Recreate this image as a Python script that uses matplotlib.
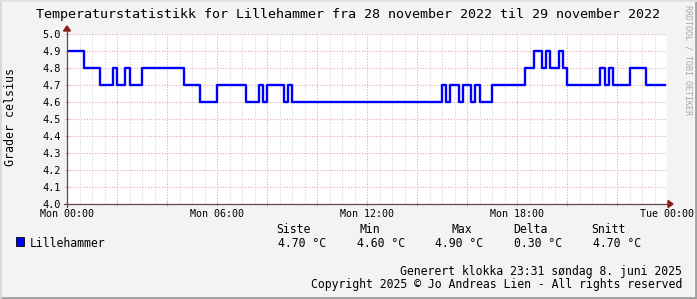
import numpy as np
import matplotlib.pyplot as plt
from matplotlib.patches import Rectangle

# Data: change times (minutes after Mon 00:00) and temperature levels
t_change = [0, 40, 80, 110, 120, 140, 150, 180, 280, 320,
            360, 430, 460, 470, 480, 520, 530, 540, 900, 910,
            920, 940, 950, 970, 980, 990, 1020, 1100, 1120, 1140,
            1150, 1160, 1180, 1190, 1200, 1280, 1290, 1300, 1310, 1350,
            1390]
temp = [4.9, 4.8, 4.7, 4.8, 4.7, 4.8, 4.7, 4.8, 4.7, 4.6,
        4.7, 4.6, 4.7, 4.6, 4.7, 4.6, 4.7, 4.6, 4.7, 4.6,
        4.7, 4.6, 4.7, 4.6, 4.7, 4.6, 4.7, 4.8, 4.9, 4.8,
        4.9, 4.8, 4.9, 4.8, 4.7, 4.8, 4.7, 4.8, 4.7, 4.8,
        4.7]
t_end = 1435

xtick_pos = [0, 360, 720, 1080, 1440]
xtick_labels = ['Mon 00:00', 'Mon 06:00', 'Mon 12:00', 'Mon 18:00', 'Tue 00:00']

stat_names = ['Siste', 'Min', 'Max', 'Delta', 'Snitt']
stat_values = ['4.70 °C', '4.60 °C', '4.90 °C', '0.30 °C', '4.70 °C']

W, H = 697, 299
def fx(x): return x / W
def fy(y): return 1 - y / H

mono = 'DejaVu Sans Mono'
plt.rcParams['font.family'] = mono

fig = plt.figure(figsize=(W / 100, H / 100), dpi=100, facecolor='#f3f3f3')
ax = fig.add_axes([fx(67), fy(204), 600 / W, 170 / H])
ax.set_facecolor('white')

# grid
mgrid = '#e0a8a8'
ngrid = '#d4d4d4'
for m in range(30, 1440, 30):
    if m % 120 == 0:
        continue
    ax.axvline(m, color=ngrid, lw=0.8, ls=(0, (1, 1.5)), zorder=1)
for m in range(120, 1441, 120):
    ax.axvline(m, color=mgrid, lw=0.8, ls=(0, (1, 1.5)), zorder=1)
for v in np.arange(4.1, 5.01, 0.1):
    ax.axhline(v, color=mgrid, lw=0.8, ls=(0, (1, 1.5)), zorder=1)

xs = t_change + [t_end]
ys = temp + [temp[-1]]
ax.step(xs, ys, where='post', color='#0000ff', lw=1.7, zorder=3)

ax.set_xlim(0, 1440)
ax.set_ylim(4.0, 5.0)
for s in ax.spines.values():
    s.set_visible(False)

yt = np.arange(4.0, 5.01, 0.1)
ax.set_yticks(yt)
ax.set_yticklabels(['%.1f' % v for v in yt])
ax.tick_params(axis='y', length=2.5, width=0.8, color=mgrid, pad=3, labelsize=7.4, direction='inout')
ax.set_xticks(range(0, 1441, 120))
ax.set_xticklabels([])
ax.tick_params(axis='x', length=2.5, width=0.8, color=mgrid, direction='inout')
for p, lab in zip(xtick_pos, xtick_labels):
    fig.text(fx(67 + p / 1440 * 600), fy(217), lab, ha='center', va='baseline', fontsize=7.2)

# axes with arrows
axc = '#604848'
arc = '#8b1a1a'
fig.add_artist(plt.Line2D([fx(64), fx(668)], [fy(204), fy(204)], color=axc, lw=0.9))
fig.add_artist(plt.Line2D([fx(67), fx(67)], [fy(207), fy(30)], color=axc, lw=0.9))
fig.add_artist(plt.Polygon([[fx(67), fy(26)], [fx(63.5), fy(31)], [fx(70.5), fy(31)]], color=arc, closed=True))
fig.add_artist(plt.Polygon([[fx(673), fy(204)], [fx(668), fy(200.5)], [fx(668), fy(207.5)]], color=arc, closed=True))

# titles
fig.text(fx(348), fy(18), 'Temperaturstatistikk for Lillehammer fra 28 november 2022 til 29 november 2022',
         ha='center', va='baseline', fontsize=9.6)
fig.text(fx(11), fy(117), 'Grader celsius', rotation=90, ha='center', va='center', fontsize=8.4)
fig.text(fx(688), fy(5), 'RRDTOOL / TOBI OETIKER', rotation=-90, ha='center', va='top',
         fontsize=6, color='#a8a8a8')

# legend
fig.add_artist(Rectangle((fx(16), fy(246)), 8 / W, 9 / H, facecolor='#0000ff', edgecolor='black', lw=0.6))
fig.text(fx(30), fy(247), 'Lillehammer', ha='left', va='baseline', fontsize=8.3)
head_x = [276, 360, 451, 513, 591]
val_x = [278, 357, 435, 514, 593]
for n, hx in zip(stat_names, head_x):
    fig.text(fx(hx), fy(233), n, ha='left', va='baseline', fontsize=8.3)
for v, vx in zip(stat_values, val_x):
    fig.text(fx(vx), fy(247), v, ha='left', va='baseline', fontsize=8.3)

fig.text(fx(682), fy(275), 'Generert klokka 23:31 søndag 8. juni 2025', ha='right', va='baseline', fontsize=8.3)
fig.text(fx(682), fy(288), 'Copyright 2025 © Jo Andreas Lien - All rights reserved', ha='right', va='baseline', fontsize=8.3)

# border
fig.add_artist(plt.Line2D([0, 1], [fy(298), fy(298)], color='#a0a0a0', lw=2))
fig.add_artist(plt.Line2D([fx(696), fx(696)], [0, 1], color='#a0a0a0', lw=2))
fig.add_artist(plt.Line2D([0, 0], [0, 1], color='#d8d8d8', lw=2))
fig.add_artist(plt.Line2D([0, 1], [1, 1], color='#e0e0e0', lw=2))

fig.savefig('out.png', dpi=100, facecolor=fig.get_facecolor())
